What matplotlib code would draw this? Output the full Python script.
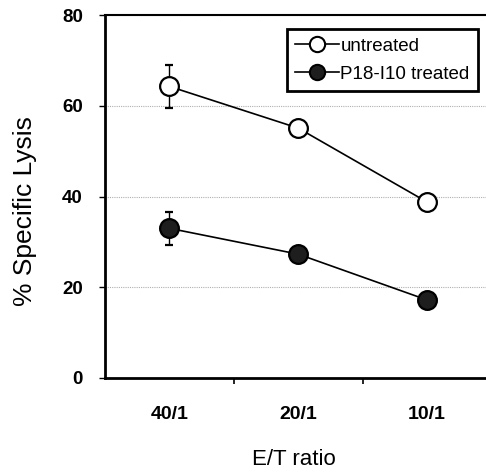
import numpy as np
import matplotlib.pyplot as plt
from matplotlib.lines import Line2D

# data
ratios = ['40/1', '20/1', '10/1']
untreated = [64.3, 55.1, 38.8]
untreated_err = [4.7, 0, 0]
treated = [33.0, 27.3, 17.2]
treated_err = [3.6, 0, 0]

plt.rcParams['font.family'] = ['Liberation Sans', 'DejaVu Sans']

fig = plt.figure(figsize=(4.86, 4.76), dpi=100)
ax = fig.add_axes([0.216, 0.206, 0.79, 0.762])

x = np.arange(len(ratios))

ax.errorbar(x, untreated, yerr=untreated_err, color='black', lw=1.2,
            marker='o', ms=13.5, mfc='white', mec='black', mew=1.6,
            capsize=3, elinewidth=1, zorder=3)
ax.errorbar(x, treated, yerr=treated_err, color='black', lw=1.2,
            marker='o', ms=13.5, mfc='#1e1e1e', mec='black', mew=1.6,
            capsize=3, elinewidth=1, zorder=3)

ax.set_ylim(0, 80)
ax.set_xlim(-0.5, 2.48)
ax.set_yticks([0, 20, 40, 60, 80])
ax.yaxis.grid(True, color='#b0b0b0', lw=0.8, ls=(0, (1, 1)))
ax.set_axisbelow(True)

ax.set_xticks(x)
ax.set_xticklabels(ratios, fontsize=14, fontweight='bold')
ax.tick_params(axis='x', length=0, pad=20)
ax.set_xticks([0.5, 1.5], minor=True)
ax.tick_params(axis='x', which='minor', length=4, width=1.2, direction='out')
ax.tick_params(axis='y', length=4, width=1, pad=12, labelsize=13.5)
for lab in ax.get_yticklabels():
    lab.set_fontweight('bold')

for s in ['left', 'bottom']:
    ax.spines[s].set_linewidth(2)
ax.spines['top'].set_linewidth(1.5)
ax.spines['right'].set_visible(False)

ax.set_ylabel('% Specific Lysis', fontsize=19)
ax.yaxis.set_label_coords(-0.177, 0.46)
ax.set_xlabel('E/T ratio', fontsize=16)
ax.xaxis.set_label_coords(0.492, -0.197)

handles = [
    Line2D([], [], color='black', lw=1.2, marker='o', ms=11, mfc='white', mec='black', mew=1.5),
    Line2D([], [], color='black', lw=1.2, marker='o', ms=11, mfc='#1e1e1e', mec='black', mew=1.5),
]
leg = ax.legend(handles, ['untreated', 'P18-I10 treated'], loc='upper right',
                bbox_to_anchor=(0.972, 0.962), fontsize=13.5,
                fancybox=False, framealpha=1, edgecolor='black',
                handlelength=2.3, handletextpad=0.1, borderpad=0.45,
                labelspacing=0.6, borderaxespad=0)
leg.get_frame().set_linewidth(2)

fig.savefig('out.png', dpi=100)
